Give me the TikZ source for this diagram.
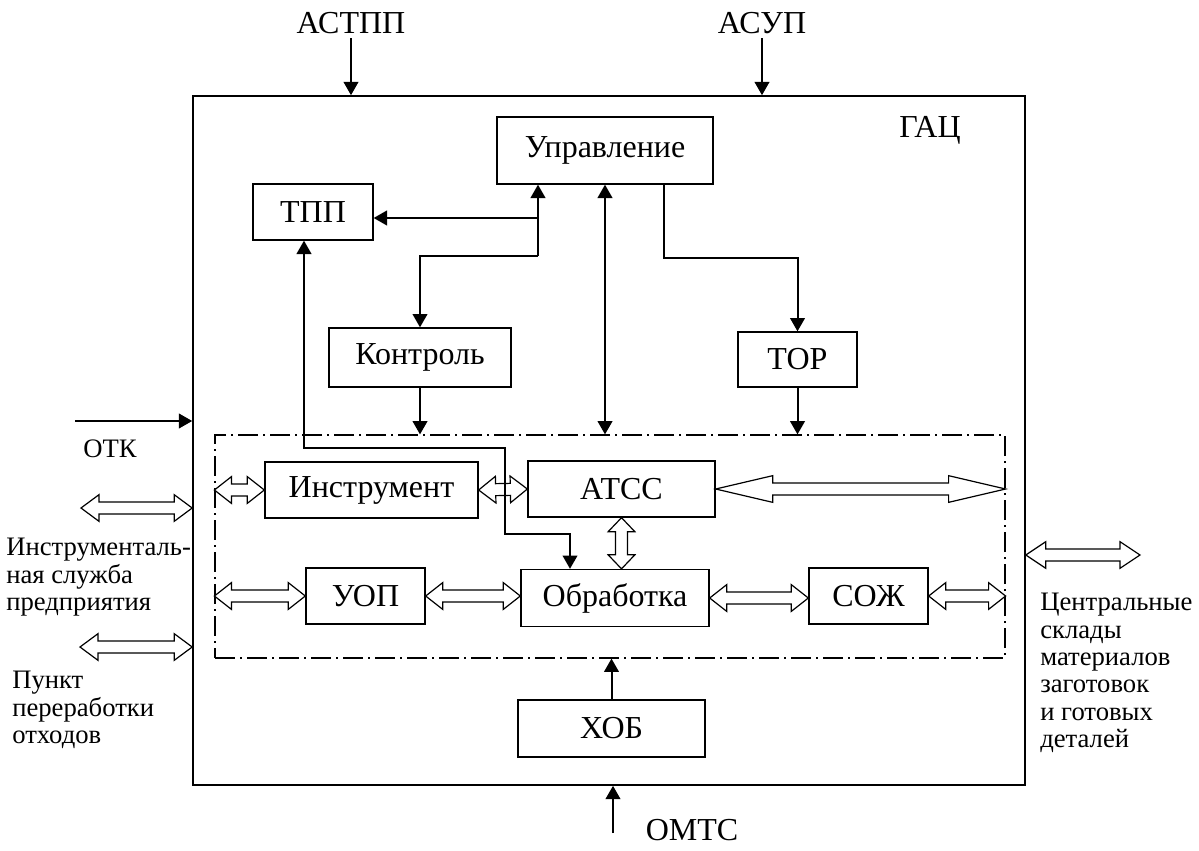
\documentclass[tikz,border=0pt]{standalone}
\usepackage{fontspec}
\setmainfont{Liberation Serif}
\usetikzlibrary{arrows.meta,calc,fit}

\tikzset{
  blok/.style={draw, line width=1pt, font=\fontsize{24}{28}\selectfont},
  lbl/.style={font=\fontsize{24}{28}\selectfont},
  side/.style={font=\fontsize{20}{20.5}\selectfont, align=left, inner sep=0pt},
  conn/.style={line width=1.5pt, -{Triangle[length=10pt,width=11pt]}},
  conn2/.style={line width=1.5pt, {Triangle[length=10pt,width=11pt]}-{Triangle[length=10pt,width=11pt]}},
  fat/.style={draw, fill=white, line width=0.9pt},
  zona/.style={draw, line width=0.9pt, inner sep=0pt, dash pattern=on 15pt off 3.75pt on 1.5pt off 3.75pt}
}

% hollow two-headed arrow: [head length in px]{from}{to}
\newcommand\fatarr[3][17]{%
  \path[fat] let \p1=#2, \p2=#3, \n1={veclen(\x2-\x1,\y2-\y1)},
      \n2={atan2(\y2-\y1,\x2-\x1)}, \n3={#1*0.75} in
    [shift={(\p1)}, rotate=\n2]
    (0pt,0pt) -- ({\n3*1pt},10pt) -- ({\n3*1pt},4.5pt) -- ({(\n1-\n3)*1pt},4.5pt)
    -- ({(\n1-\n3)*1pt},10pt) -- ({\n1*1pt},0pt) -- ({(\n1-\n3)*1pt},-10pt)
    -- ({(\n1-\n3)*1pt},-4.5pt) -- ({\n3*1pt},-4.5pt) -- ({\n3*1pt},-10pt) -- cycle;
}

\begin{document}
\begin{tikzpicture}[x=0.75pt,y=-0.75pt]
  \useasboundingbox (0,0) rectangle (1199,850);

  \node[draw, line width=1.2pt, inner sep=0pt, fit={(193,96)(1025,785)}] (gac) {};
  \node[zona, fit={(215,435)(1005,658)}] (zone) {};
  \node[lbl] (gacname) at (930,130) {ГАЦ};

  \node[blok, minimum width=162pt, minimum height=50.25pt] (upr) at (605,150.5) {Управление};
  \node[blok, minimum width=90pt, minimum height=42pt] (tpp) at (313,212) {ТПП};
  \node[blok, minimum width=136.5pt, minimum height=44.25pt] (kontr) at (420,357.5) {Контроль};
  \node[blok, minimum width=89.25pt, minimum height=41.25pt] (tor) at (797.5,359.5) {ТОР};
  \node[blok, minimum width=159.75pt, minimum height=42pt] (instr) at (371.5,490) {Инструмент};
  \node[blok, minimum width=140.25pt, minimum height=42pt] (atss) at (621.5,489) {АТСС};
  \node[blok, minimum width=89.25pt, minimum height=42pt] (uop) at (365.5,596) {УОП};
  \node[blok, minimum width=141pt, minimum height=42.75pt] (obr) at (615,598) {Обработка};
  \node[blok, minimum width=89.25pt, minimum height=42pt] (soj) at (868.5,596) {СОЖ};
  \node[blok, minimum width=140.25pt, minimum height=42.75pt] (xob) at (611.5,728.5) {ХОБ};

  % material flows
  \fatarr{(zone.west |- instr.west)}{(instr.west)}
  \fatarr{(instr.east)}{(atss.west)}
  \fatarr[57]{(atss.east)}{(atss.east -| zone.east)}
  \fatarr[14]{(atss.south)}{(atss.south |- obr.north)}
  \fatarr{(zone.west |- uop.west)}{(uop.west)}
  \fatarr{(uop.east)}{(uop.east -| obr.west)}
  \fatarr{(obr.east)}{(obr.east -| soj.west)}
  \fatarr{(soj.east)}{(soj.east -| zone.east)}

  % control links
  \coordinate (j1) at (538,256);
  \coordinate (j2) at (538,218);
  \coordinate (j3) at (664,258);
  \draw[conn] (j1) -- (j1 |- upr.south);
  \draw[conn] (j2) -- (j2 -| tpp.east);
  \draw[conn] (j1) -| (kontr.north);
  \draw[conn2] (upr.south) -- (upr.south |- zone.north);
  \draw[conn] (j3 |- upr.south) -- (j3) -| (tor.north);
  \draw[conn] (kontr.south) -- (kontr.south |- zone.north);
  \draw[conn] (tor.south) -- (tor.south |- zone.north);
  \draw[conn] (xob.north) -- (xob.north |- zone.south);

  \coordinate (t1) at (304,448);
  \coordinate (t2) at (505,534);
  \coordinate (t3) at (570,534);
  \draw[conn2] (t1 |- tpp.south) -- (t1) -| (t2) -- (t3) -- (t3 |- obr.north);

  % outside
  \node[lbl] (astpp) at (351,23) {АСТПП};
  \node[lbl] (asup) at (762,23) {АСУП};
  \draw[conn] (astpp.south) -- (astpp.south |- gac.north);
  \draw[conn] (asup.south) -- (asup.south |- gac.north);

  \node[lbl] (omts) at (692,830) {ОМТС};
  \coordinate (m0) at (613,833);
  \draw[conn] (m0) -- (m0 |- gac.south);

  \coordinate (otk0) at (75,421);
  \draw[conn] (otk0) -- (otk0 -| gac.west);
  \node[side] (otk) at (110,449) {ОТК};

  \coordinate (isp) at (81,508);
  \fatarr[18]{(isp)}{(isp -| gac.west)}
  \node[side, anchor=north west] (isptext) at (6,538) {Инструменталь-\\ ная служба\\ предприятия};

  \coordinate (ppo) at (80,647);
  \fatarr[18]{(ppo)}{(ppo -| gac.west)}
  \node[side, anchor=north west] (ppotext) at (12,671) {Пункт\\ переработки\\ отходов};

  \coordinate (csk) at (1140,555);
  \fatarr[20]{(csk -| gac.east)}{(csk)}
  \node[side, anchor=north west] (csktext) at (1040,593) {Центральные\\ склады\\ материалов\\ заготовок\\ и готовых\\ деталей};
\end{tikzpicture}
\end{document}
